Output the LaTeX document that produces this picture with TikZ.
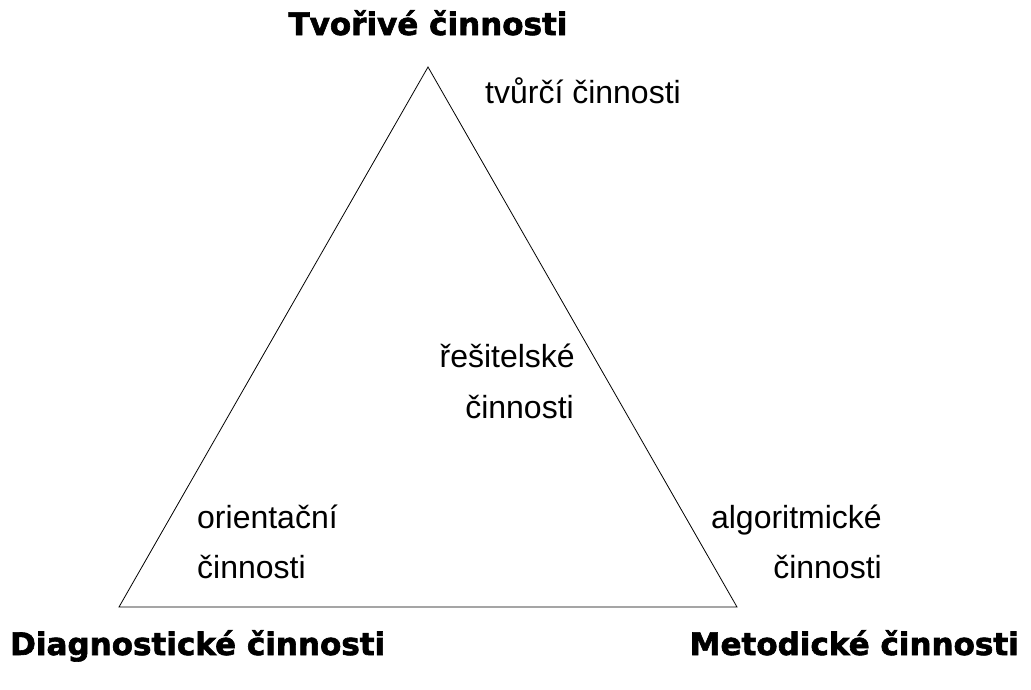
\documentclass[tikz,border=0pt]{standalone}
\usepackage{fontspec}
\setmainfont{Liberation Sans}
\newfontfamily\headfont[BoldFont={DejaVu Sans Bold}, BoldFeatures={FakeBold=2}]{DejaVu Sans}
\tikzset{
  lbl/.style={inner sep=0pt, font=\fontsize{32}{32}\selectfont},
  head/.style={inner sep=0pt, font=\headfont\bfseries\fontsize{31}{31}\selectfont},
  tri/.style={draw=black, line width=0.8pt, line join=miter}
}
\begin{document}
\begin{tikzpicture}[x=1pt,y=-1pt]
\useasboundingbox (0,0) rectangle (1031,689);
\coordinate (A) at (428,67);
\coordinate (B) at (119,607);
\coordinate (C) at (737,607);
\draw[tri] (A) -- (B) -- (C) -- cycle;
\node[head, anchor=base] (t1) at (428,35) {Tvořivé činnosti};
\node[head, anchor=base west] (t2) at (10,655) {Diagnostické činnosti};
\node[head, anchor=base east] (t3) at (1019,655) {Metodické činnosti};
\node[lbl, anchor=base west] (l1) at (485,103) {tvůrčí činnosti};
\node[lbl, anchor=base east] (l2) at (575,367) {řešitelské};
\node[lbl, anchor=base east] (l3) at (574,418) {činnosti};
\node[lbl, anchor=base west] (l4) at (197,528) {orientační};
\node[lbl, anchor=base west] (l5) at (197,578) {činnosti};
\node[lbl, anchor=base east] (l6) at (882,528) {algoritmické};
\node[lbl, anchor=base east] (l7) at (882,578) {činnosti};
\end{tikzpicture}
\end{document}
